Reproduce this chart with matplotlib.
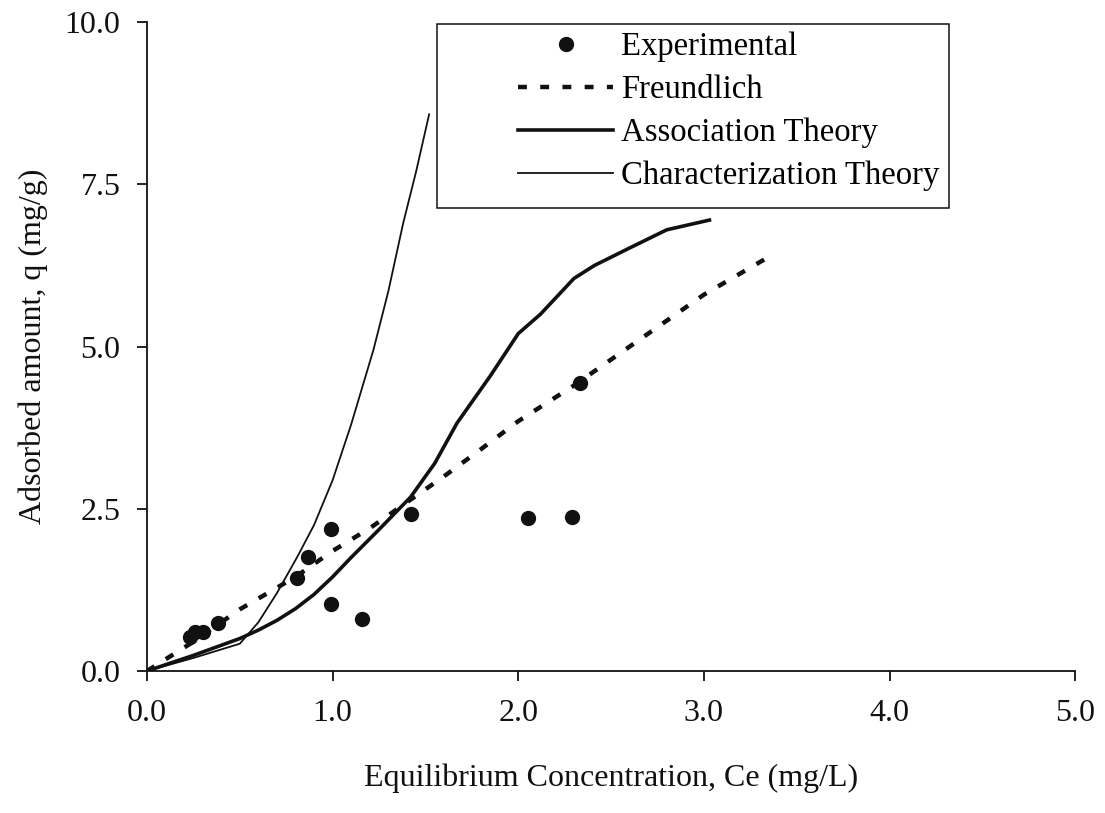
import matplotlib
matplotlib.use("Agg")
import matplotlib.pyplot as plt
from matplotlib.patches import Rectangle

plt.rcParams["font.family"] = ["Liberation Serif", "DejaVu Serif"]

# Experimental adsorption data
exp_ce = [0.23, 0.26, 0.30, 0.38, 0.81, 0.87, 0.99, 0.99, 1.16, 1.42, 2.05, 2.29, 2.33]
exp_q = [0.52, 0.60, 0.60, 0.74, 1.43, 1.76, 2.19, 1.03, 0.80, 2.42, 2.36, 2.37, 4.44]

# Freundlich fit
fr_ce = [0.0, 0.25, 0.5, 0.8, 1.0, 1.2, 1.4, 1.6, 1.8, 2.0, 2.3, 2.5, 2.8, 3.0, 3.33]
fr_q = [0.0, 0.45, 0.95, 1.45, 1.85, 2.2, 2.6, 3.0, 3.42, 3.85, 4.4, 4.8, 5.4, 5.8, 6.35]

# Association theory prediction
as_ce = [0.0, 0.25, 0.5, 0.6, 0.7, 0.8, 0.9, 1.0, 1.1, 1.25, 1.42, 1.55, 1.67, 1.85,
         2.0, 2.12, 2.3, 2.41, 2.6, 2.8, 3.03]
as_q = [0.0, 0.24, 0.5, 0.63, 0.78, 0.96, 1.18, 1.45, 1.75, 2.18, 2.68, 3.2, 3.82, 4.55,
        5.2, 5.5, 6.05, 6.25, 6.52, 6.8, 6.95]

# Characterization theory prediction
ch_ce = [0.0, 0.25, 0.5, 0.6, 0.7, 0.81, 0.9, 1.0, 1.1, 1.22, 1.3, 1.38, 1.45, 1.52]
ch_q = [0.0, 0.2, 0.42, 0.75, 1.2, 1.76, 2.25, 2.94, 3.8, 4.95, 5.85, 6.9, 7.7, 8.58]

x_ticks = [0.0, 1.0, 2.0, 3.0, 4.0, 5.0]
y_ticks = [0.0, 2.5, 5.0, 7.5, 10.0]

ink = "#111111"
fs = 23

fig = plt.figure(figsize=(11.05, 8.13), dpi=100)
ax = fig.add_axes([0.133, 0.1747, 0.840, 0.798])

ax.plot(exp_ce, exp_q, "o", color=ink, markersize=10, label="Experimental", zorder=5)
ax.plot(fr_ce, fr_q, color=ink, lw=3.2, dashes=(2.0, 3.0), label="Freundlich")
ax.plot(as_ce, as_q, color=ink, lw=2.6, label="Association Theory")
ax.plot(ch_ce, ch_q, color=ink, lw=1.3, label="Characterization Theory")

ax.set_xlim(0, 5)
ax.set_ylim(0, 10)
ax.set_xticks(x_ticks)
ax.set_yticks(y_ticks)
ax.set_xticklabels([f"{v:.1f}" for v in x_ticks])
ax.set_yticklabels([f"{v:.1f}" for v in y_ticks])
ax.tick_params(direction="out", length=7, width=1.3, labelsize=fs, colors=ink)
ax.tick_params(axis="x", pad=13)
ax.tick_params(axis="y", pad=12)

for side in ("top", "right"):
    ax.spines[side].set_visible(False)
for side in ("left", "bottom"):
    ax.spines[side].set_linewidth(1.3)
    ax.spines[side].set_color(ink)

ax.set_xlabel("Equilibrium Concentration, Ce (mg/L)", fontsize=fs, labelpad=26, color=ink)
ax.set_ylabel("Adsorbed amount, q (mg/g)", fontsize=fs, labelpad=12, color=ink)

# Legend entries without their own frame; the box is drawn separately
leg = ax.legend(loc="upper left", bbox_to_anchor=(0.3998, 0.985), fontsize=23.6,
                frameon=False, handlelength=2.9, handletextpad=0.25,
                borderpad=0, labelspacing=0.38, borderaxespad=0)
ax.add_patch(Rectangle((0.313, 0.713), 0.551, 0.284, transform=ax.transAxes,
                       fill=True, facecolor="white", edgecolor=ink, lw=1.1, zorder=4))
leg.set_zorder(6)

fig.savefig("out.png", dpi=100)
